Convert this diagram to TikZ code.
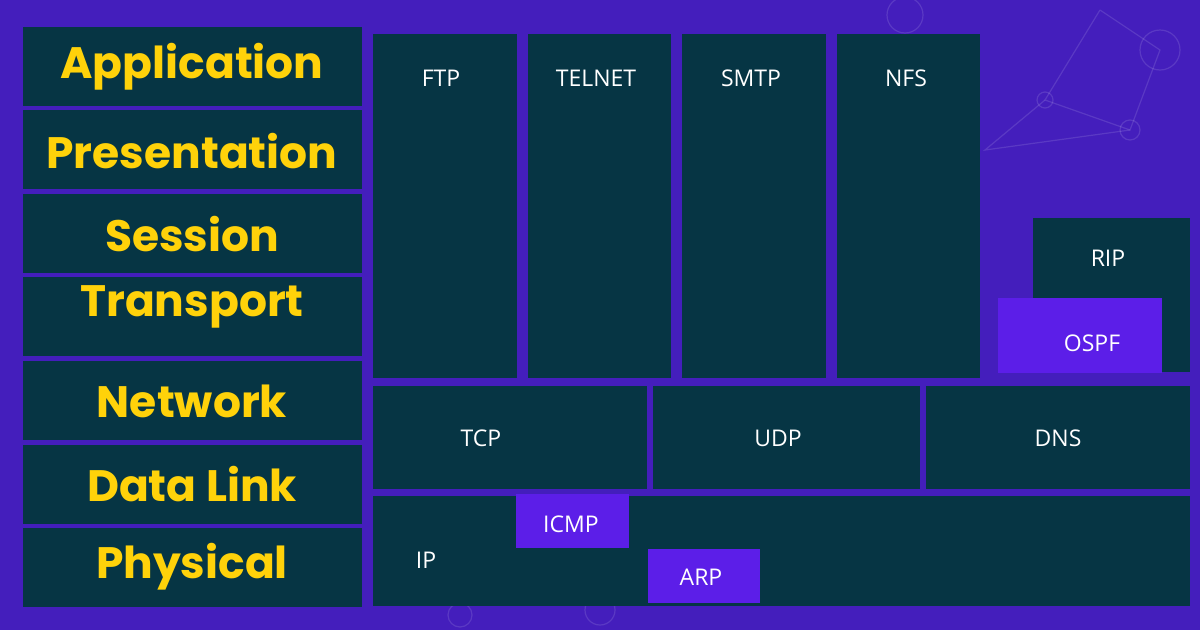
\documentclass[tikz,border=0pt]{standalone}
\usepackage{fontspec}
\setmainfont{Open Sans}
\newfontfamily\pop{Poppins}
\definecolor{bgp}{RGB}{68,30,188}
\definecolor{teal}{RGB}{6,53,68}
\definecolor{vio}{RGB}{92,30,232}
\definecolor{gold}{RGB}{255,210,10}
\begin{document}
\begin{tikzpicture}[x=1pt,y=-1pt,
 box/.style={fill=teal,draw=none,inner sep=0,anchor=north west},
 vbox/.style={fill=vio,draw=none,inner sep=0,anchor=north west},
 lay/.style={text=gold,font=\pop\bfseries\fontsize{44}{48}\selectfont},
 lab/.style={text=white,font=\fontsize{23}{26}\selectfont}]
\fill[bgp] (0,0) rectangle (1200,630);
\useasboundingbox (0,0) rectangle (1200,630);
\begin{scope}[draw=white,opacity=0.12,line width=1.2pt]
\draw (1100,10) -- (1160,50) -- (1130,130) -- (1045,100) -- (1100,10);
\draw (1045,100) -- (985,150) -- (1130,130);
\draw (905,15) circle (18);
\draw (1160,50) circle (20);
\draw (1130,130) circle (10);
\draw (1045,100) circle (8);
\draw (600,610) circle (15);
\draw (460,615) circle (12);
\end{scope}
% left column
\foreach \n/\y/\t/\ty in {a/27/Application/67,b/110/Presentation/151,c/194/Session/234,d/277/Transport/307,e/361/Network/401,f/445/Data Link/484,g/528/Physical/567}{
 \node[box,minimum width=339,minimum height=79] (\n) at (23,\y) {};
 \node[lay] (t\n) at (192,\ty) {\t};
}
% app protocols
\node[box,minimum width=144,minimum height=344] (ftp) at (373,34) {};
\node[box,minimum width=143,minimum height=344] (tel) at (528,34) {};
\node[box,minimum width=144,minimum height=344] (smtp) at (682,34) {};
\node[box,minimum width=143,minimum height=344] (nfs) at (837,34) {};
\node[box,minimum width=157,minimum height=154] (rip) at (1033,218) {};
\node[vbox,minimum width=164,minimum height=75] (ospf) at (998,298) {};
\node[box,minimum width=274,minimum height=103] (tcp) at (373,386) {};
\node[box,minimum width=267,minimum height=103] (udp) at (653,386) {};
\node[box,minimum width=264,minimum height=103] (dns) at (926,386) {};
\node[box,minimum width=817,minimum height=110] (ip) at (373,496) {};
\node[vbox,minimum width=113,minimum height=54] (icmp) at (516,494) {};
\node[vbox,minimum width=112,minimum height=54] (arp) at (648,549) {};
\node[lab] at (441,78) {FTP};
\node[lab] at (596,78) {TELNET};
\node[lab] at (751,78) {SMTP};
\node[lab] at (906,78) {NFS};
\node[lab] at (1108,258) {RIP};
\node[lab] at (1092,343) {OSPF};
\node[lab] at (481,438) {TCP};
\node[lab] at (778,438) {UDP};
\node[lab] at (1058,438) {DNS};
\node[lab] at (426,560) {IP};
\node[lab] at (571,524) {ICMP};
\node[lab] at (701,577) {ARP};
\end{tikzpicture}
\end{document}
